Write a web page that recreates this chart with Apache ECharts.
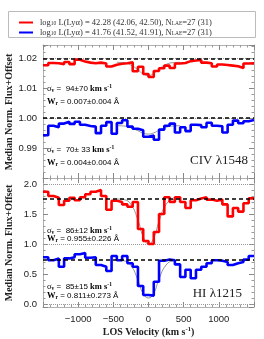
<!DOCTYPE html>
<html><head><meta charset="utf-8">
<script src="https://cdn.jsdelivr.net/npm/echarts@6/dist/echarts.min.js"></script>
<style>html,body{margin:0;padding:0;background:#fff}#c{width:264px;height:339px}</style>
</head><body><div id="c"></div>
<script>
// Bin left edges (km/s), last value is the right edge of the last bin
const velocityEdges = [-1500,-1425,-1350,-1275,-1200,-1125,-1050,-975,-900,-825,-750,-675,-600,-525,-450,-375,-300,-225,-150,-75,0,75,150,225,300,375,450,525,600,675,750,825,900,975,1050,1125,1200,1275,1350,1425,1500];
const civHigh = [1.0177,1.0185,1.0184,1.0181,1.0188,1.0181,1.0196,1.0190,1.0186,1.0184,1.0186,1.0183,1.0173,1.0179,1.0182,1.0184,1.0187,1.0157,1.0172,1.0148,1.0138,1.0158,1.0167,1.0176,1.0168,1.0183,1.0185,1.0191,1.0193,1.0195,1.0186,1.0184,1.0173,1.0180,1.0178,1.0176,1.0174,1.0168,1.0183,1.0184];
const civLow = [0.9943,0.9975,0.9970,0.9982,0.9988,0.9981,0.9988,0.9978,0.9974,0.9972,0.9950,0.9975,0.9987,0.9948,0.9984,0.9993,0.9972,0.9965,0.9960,0.9938,0.9942,0.9928,0.9962,0.9975,0.9982,0.9952,0.9970,0.9957,0.9978,0.9977,0.9970,0.9985,0.9975,0.9973,0.9952,0.9978,0.9992,0.9983,0.9990,0.9994];
const hiHigh = [1.87,1.80,1.77,1.65,1.72,1.77,1.73,1.78,1.83,1.87,1.90,1.80,1.57,1.72,1.70,1.66,1.62,1.70,1.25,1.05,1.00,1.20,1.50,1.78,1.70,1.78,1.70,1.60,1.73,1.76,1.78,1.74,1.72,1.74,1.66,1.46,1.60,1.54,1.68,1.76];
const hiLow = [0.78,0.73,0.76,0.62,0.76,0.78,0.83,0.85,0.77,0.78,0.65,0.62,0.55,0.80,0.73,0.80,0.68,0.62,0.30,0.15,0.14,0.37,0.72,0.74,0.73,0.66,0.45,0.57,0.43,0.57,0.62,0.68,0.73,0.72,0.70,0.65,0.68,0.70,0.74,0.80];
// Gaussian model fits
const modelVel = [-450,-350,-250,-150,-75,0,75,150,250,350,450];
const civHighModel = [1.0187,1.0186,1.0178,1.0162,1.0148,1.0143,1.0150,1.0165,1.0180,1.0186,1.0187];
const civLowModel = [0.9975,0.9974,0.9968,0.9958,0.9950,0.9947,0.9951,0.9960,0.9970,0.9974,0.9975];
const hiHighModel = [1.75,1.74,1.66,1.40,1.12,1.00,1.10,1.38,1.66,1.74,1.75];
const hiLowModel = [0.73,0.72,0.64,0.40,0.17,0.10,0.18,0.42,0.65,0.72,0.73];
// Continuum (dashed) and reference (dotted) levels
const civContinuum = [1.0187, 0.9975];
const hiContinuum = [1.75, 0.73];
const civRefLevels = [1.02, 1.00];
const hiRefLevels = [2.0, 1.0, 0.0];
// Annotations
const civNotes = [["94±70","0.007±0.004"],["70± 33","0.004±0.004"]];
const hiNotes = [["86±12","0.955±0.226"],["85±15","0.811±0.273"]];
const legendText = {
  high: "log{sub|10} L(Lyα) = 42.28 (42.06, 42.50), N{sub|LAE}=27 (31)",
  low: "log{sub|10} L(Lyα) = 41.76 (41.52, 41.91), N{sub|LAE}=27 (31)"
};

const chart = echarts.init(document.getElementById('c'), null, {renderer:'canvas'});
const serif = "'Liberation Serif','DejaVu Serif',serif";
const sans = "'Liberation Sans','DejaVu Sans',sans-serif";
const axisGrey = '#b0b0b0';
function stepData(vals){ return velocityEdges.map((v,i)=>[v, vals[Math.min(i, vals.length-1)]]); }
function modelData(vals){ return modelVel.map((v,i)=>[v, vals[i]]); }

function xAx(gi, pos, labels){
  return {type:'value', gridIndex:gi, position:pos, min:-1500, max:1500, splitNumber:6,
    axisLine:{show:true, onZero:false, lineStyle:{color:axisGrey, width:1}},
    axisTick:{show:true, inside:true, length:5, lineStyle:{color:'#888'}},
    minorTick:{show:true, splitNumber:5, length:2.5, lineStyle:{color:'#999'}},
    splitLine:{show:false},
    axisLabel:{show:labels, showMinLabel:false, showMaxLabel:false, fontFamily:sans, fontSize:9.5, color:'#222', margin:7,
      formatter:v=>String(v).replace('-','\u2212')},
    name: labels ? 'LOS Velocity (km s{sup|-1})' : '', nameLocation:'middle', nameGap:19,
    nameTextStyle:{fontFamily:serif, fontWeight:'bold', fontSize:10, color:'#222', rich:{sup:{fontSize:6.5, fontWeight:'bold', fontFamily:serif, verticalAlign:'top', padding:[0,0,5,0], color:'#222'}}}
  };
}
function yAx(gi, pos, min, max, split, labels, dec){
  return {type:'value', gridIndex:gi, position:pos, min:min, max:max, splitNumber:split,
    axisLine:{show:true, onZero:false, lineStyle:{color:axisGrey, width:1}},
    axisTick:{show:true, inside:true, length:5, lineStyle:{color:'#888'}},
    minorTick:{show:true, splitNumber:5, length:2.5, lineStyle:{color:'#999'}},
    splitLine:{show:false},
    axisLabel:{show:labels, showMinLabel:false, showMaxLabel:false, fontFamily:sans, fontSize:9.5, color:'#222', margin:6,
      formatter:v=>v.toFixed(dec)}
  };
}
function refLines(levels){
  return {silent:true, symbol:'none', label:{show:false}, z:1,
    lineStyle:{type:'dotted', color:'#999', width:1}, data:levels.map(l=>({yAxis:l}))};
}
function contLines(levels){
  return {silent:true, symbol:'none', label:{show:false},
    lineStyle:{type:[4,3], color:'#000', width:1.5}, data:levels.map(l=>({yAxis:l}))};
}
function stepSeries(name, vals, xi, yi, color, extra){
  return Object.assign({type:'line', name:name, xAxisIndex:xi, yAxisIndex:yi, data:stepData(vals), step:'end',
    symbol:'none', lineStyle:{color:color, width:2.6}, itemStyle:{color:color}, z:3, animation:false}, extra||{});
}
function modelSeries(vals, xi, yi){
  return {type:'line', xAxisIndex:xi, yAxisIndex:yi, data:modelData(vals), smooth:true, symbol:'none',
    lineStyle:{color:'#777', width:0.8}, z:2, animation:false, silent:true};
}
function note(x, y, sig, w){
  return [
    {type:'text', x:x, y:y, style:{text:'{s|σ}{sb|v}{n| =  '+sig+' }{b|km s}{sp|-1}', verticalAlign:'middle', rich:noteRich}},
    {type:'text', x:x, y:y+13, style:{text:'{b|W}{sb|r}{n| = '+w+' Å}', verticalAlign:'middle', rich:noteRich}}
  ];
}
const noteRich = {
  s:{fontFamily:serif, fontSize:8.5, color:'#888'},
  sb:{fontFamily:serif, fontSize:5.5, color:'#888', fontWeight:'bold', verticalAlign:'bottom', padding:[3,0,0,0]},
  n:{fontFamily:sans, fontSize:8, color:'#999'},
  b:{fontFamily:serif, fontSize:8.5, color:'#888', fontWeight:'bold'},
  sp:{fontFamily:serif, fontSize:5.5, color:'#888', fontWeight:'bold', verticalAlign:'top', padding:[0,0,4,0]}
};

const option = {
  animation:false,
  backgroundColor:'#fff',
  grid:[{left:43, top:45, width:211, height:133}, {left:43, top:178, width:211, height:129}],
  xAxis:[xAx(0,'bottom',false), xAx(0,'top',false), xAx(1,'bottom',true), xAx(1,'top',false)],
  yAxis:[yAx(0,'left',0.98,1.0245,4,true,2), yAx(0,'right',0.98,1.0245,4,false,2),
         yAx(1,'left',-0.05,2.1,4,true,1), yAx(1,'right',-0.05,2.1,4,false,1)],
  legend:{orient:'vertical', left:14, top:13, itemWidth:14, itemHeight:2, itemGap:1, icon:'rect',
    data:['high','low'], selectedMode:false,
    formatter:n=>legendText[n],
    textStyle:{fontFamily:serif, fontSize:8.5, color:'#333', padding:[0,0,0,2],
      rich:{sub:{fontFamily:serif, fontSize:5.5, color:'#333', verticalAlign:'bottom', padding:[3,0,0,0]}}}},
  series:[
    stepSeries('high', civHigh, 0, 0, '#ff0000', {markLine:refLines(civRefLevels)}),
    stepSeries('low', civLow, 0, 0, '#0000ff', {markLine:contLines(civContinuum)}),
    modelSeries(civHighModel, 0, 0), modelSeries(civLowModel, 0, 0),
    stepSeries('high', hiHigh, 2, 2, '#ff0000', {markLine:refLines(hiRefLevels)}),
    stepSeries('low', hiLow, 2, 2, '#0000ff', {markLine:contLines(hiContinuum)}),
    modelSeries(hiHighModel, 2, 2), modelSeries(hiLowModel, 2, 2)
  ],
  graphic:[
    {type:'rect', shape:{x:8.5, y:11.5, width:247, height:26}, style:{fill:'none', stroke:'#bbb', lineWidth:1}, z:-1},
    {type:'text', x:9, y:112, rotation:Math.PI/2, style:{text:'Median Norm. Flux+Offset', align:'center', verticalAlign:'middle', font:"bold 10px 'Liberation Serif'", fill:'#222'}},
    {type:'text', x:9, y:243, rotation:Math.PI/2, style:{text:'Median Norm. Flux+Offset', align:'center', verticalAlign:'middle', font:"bold 10px 'Liberation Serif'", fill:'#222'}},
    {type:'text', x:248, y:161, style:{text:'CIV λ1548', align:'right', verticalAlign:'middle', font:"13px 'Liberation Serif'", fill:'#222'}},
    {type:'text', x:242, y:294, style:{text:'HI λ1215', align:'right', verticalAlign:'middle', font:"13px 'Liberation Serif'", fill:'#222'}}
  ].concat(note(47, 89, civNotes[0][0], civNotes[0][1]))
   .concat(note(47, 150, civNotes[1][0], civNotes[1][1]))
   .concat(note(47, 231, hiNotes[0][0], hiNotes[0][1]).map((g,i)=>{ if(i===1) g.y = 239; return g; }))
   .concat(note(47, 287, hiNotes[1][0], hiNotes[1][1]).map((g,i)=>{ if(i===1) g.y = 296; return g; }))
};
chart.setOption(option);
</script></body></html>
